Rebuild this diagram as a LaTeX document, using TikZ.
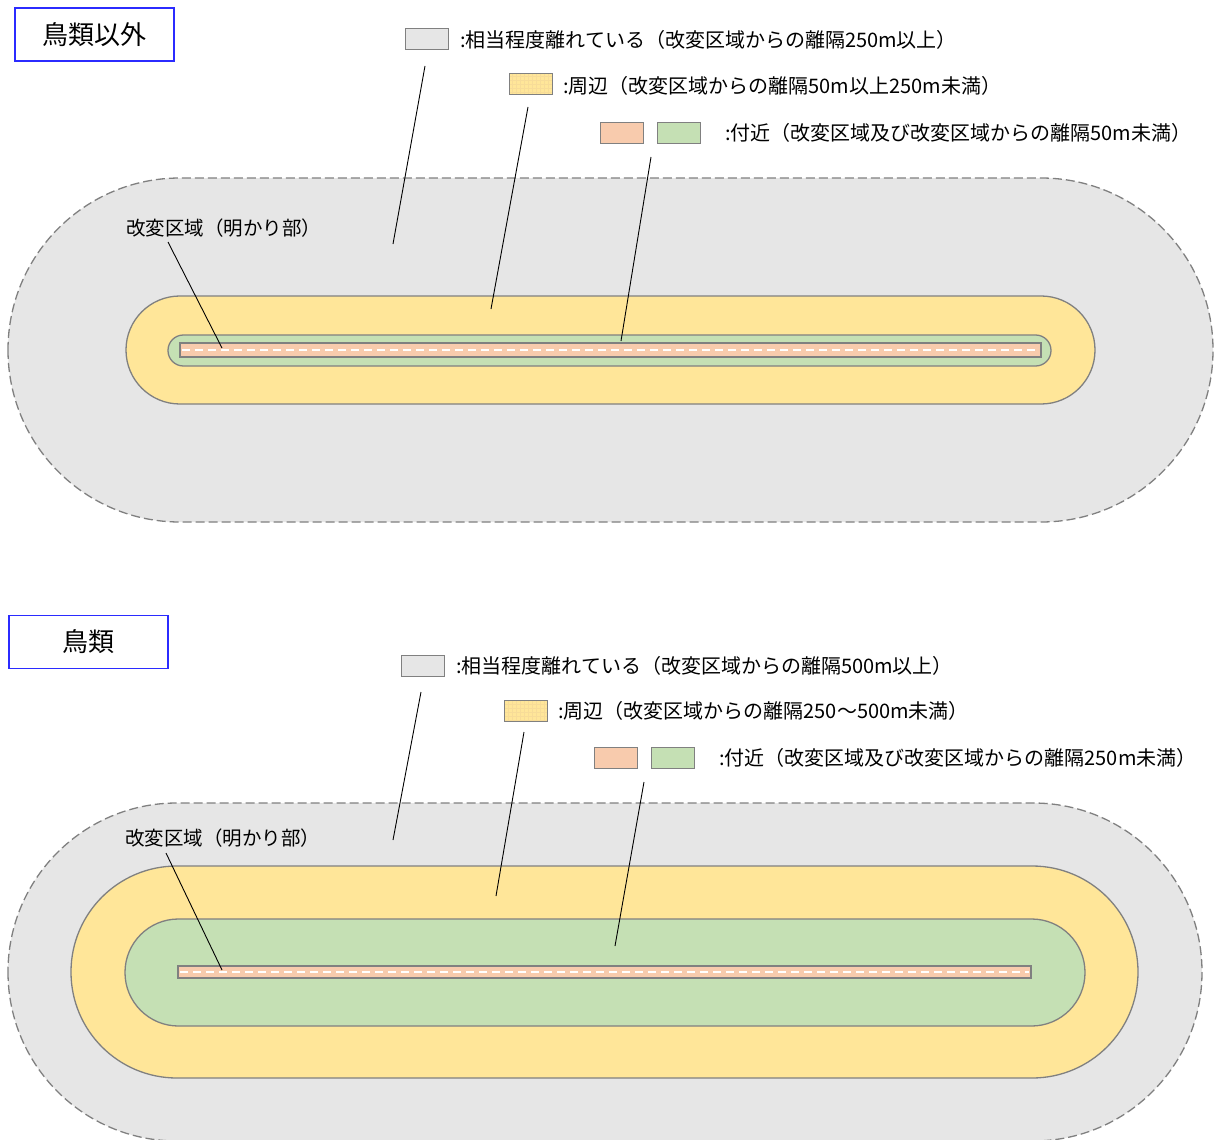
\documentclass[tikz,border=0pt]{standalone}
\usepackage{fontspec}
\setmainfont{Noto Sans CJK JP}
\definecolor{zgray}{HTML}{E6E6E6}
\definecolor{zyellow}{HTML}{FFE699}
\definecolor{zgreen}{HTML}{C5E0B4}
\definecolor{zorange}{HTML}{F8CBAD}
\definecolor{zline}{HTML}{808080}
\definecolor{zgrid}{HTML}{F7DC98}
\definecolor{zblue}{HTML}{2B2BFF}
\begin{document}
\begin{tikzpicture}[x=1pt,y=-1pt,
  zone/.style={draw=zline,line width=1.3pt},
  outerzone/.style={fill=zgray,draw=zline,line width=1.3pt,dash pattern=on 9pt off 4pt},
  centreline/.style={draw=white,line width=2.4pt,dash pattern=on 8pt off 5pt},
  titlebox/.style={draw=zblue,line width=1.8pt,fill=white,minimum width=159pt,minimum height=53pt,inner sep=0pt,font=\fontsize{26}{30}\selectfont},
  keybox/.style={draw=zline,line width=1pt,minimum width=43pt,minimum height=21pt,inner sep=0pt},
  keytext/.style={anchor=west,inner sep=0pt,font=\fontsize{20}{23}\selectfont},
  areatext/.style={anchor=west,inner sep=0pt,font=\fontsize{19.5}{22}\selectfont},
  leader/.style={draw=black,line width=0.9pt}]
\useasboundingbox (0,0) rectangle (1216,1140);
\fill[white] (0,0) rectangle (1216,1140);

% ===== top diagram =====
\path[outerzone,rounded corners=171.9pt] (8,178) rectangle (1213,522);
\path[zone,fill=zyellow,rounded corners=53.9pt] (126,296) rectangle (1095,404);
\path[zone,fill=zgreen,rounded corners=15.4pt] (168,335) rectangle (1051,366);
\path[zone,fill=zorange] (180,343) rectangle (1041,357);
\draw[centreline] (182,350) -- (1039,350);

\node[titlebox] (t1) at (94.5,34.5) {鳥類以外};

\node[keybox,fill=zgray] (k1g) at (426.5,39.5) {};
\node[keytext] (k1gt) at (460,40) {:相当程度離れている（改変区域からの離隔250m以上）};
\node[keybox,fill=zyellow] (k1y) at (530.5,84.5) {};
\begin{scope}
\clip (509,74) rectangle (552,95);
\draw[zgrid,line width=0.4pt,step=4pt] (509,74) grid (552,95);
\end{scope}
\node[keybox] at (530.5,84.5) {};
\node[keytext] (k1yt) at (563,86) {:周辺（改変区域からの離隔50m以上250m未満）};
\node[keybox,fill=zorange] (k1o) at (621.5,132.5) {};
\node[keybox,fill=zgreen] (k1n) at (678.5,132.5) {};
\node[keytext] (k1nt) at (725,133) {:付近（改変区域及び改変区域からの離隔50m未満）};

\node[areatext] (l1) at (126,228) {改変区域（明かり部）};

\coordinate (a1) at (425,66);  \coordinate (b1) at (393,244);
\coordinate (a2) at (528,107); \coordinate (b2) at (491,309);
\coordinate (a3) at (651,157); \coordinate (b3) at (621,341);
\coordinate (a4) at (168,242); \coordinate (b4) at (222,348);
\draw[leader] (a1) -- (b1);
\draw[leader] (a2) -- (b2);
\draw[leader] (a3) -- (b3);
\draw[leader] (a4) -- (b4);

% ===== bottom diagram =====
\path[outerzone,rounded corners=168.9pt] (8,803) rectangle (1202,1141);
\path[zone,fill=zyellow,rounded corners=105.9pt] (71,866) rectangle (1138,1078);
\path[zone,fill=zgreen,rounded corners=53.4pt] (125,919) rectangle (1085,1026);
\path[zone,fill=zorange] (178,966) rectangle (1031,978);
\draw[centreline] (180,972) -- (1029,972);

\node[titlebox] (t2) at (88.5,642) {鳥類};

\node[keybox,fill=zgray] (k2g) at (422.5,665.5) {};
\node[keytext] (k2gt) at (456,666) {:相当程度離れている（改変区域からの離隔500m以上）};
\node[keybox,fill=zyellow] (k2y) at (525.5,710.5) {};
\begin{scope}
\clip (504,700) rectangle (547,721);
\draw[zgrid,line width=0.4pt,step=4pt] (504,700) grid (547,721);
\end{scope}
\node[keybox] at (525.5,710.5) {};
\node[keytext] (k2yt) at (558,711) {:周辺（改変区域からの離隔250〜500m未満）};
\node[keybox,fill=zorange] (k2o) at (615.5,757.5) {};
\node[keybox,fill=zgreen] (k2n) at (672.5,757.5) {};
\node[keytext] (k2nt) at (719,758) {:付近（改変区域及び改変区域からの離隔250m未満）};

\node[areatext] (l2) at (125,838) {改変区域（明かり部）};

\coordinate (c1) at (421,692); \coordinate (d1) at (393,840);
\coordinate (c2) at (524,732); \coordinate (d2) at (496,896);
\coordinate (c3) at (644,782); \coordinate (d3) at (615,946);
\coordinate (c4) at (166,853); \coordinate (d4) at (222,970);
\draw[leader] (c1) -- (d1);
\draw[leader] (c2) -- (d2);
\draw[leader] (c3) -- (d3);
\draw[leader] (c4) -- (d4);
\end{tikzpicture}
\end{document}
